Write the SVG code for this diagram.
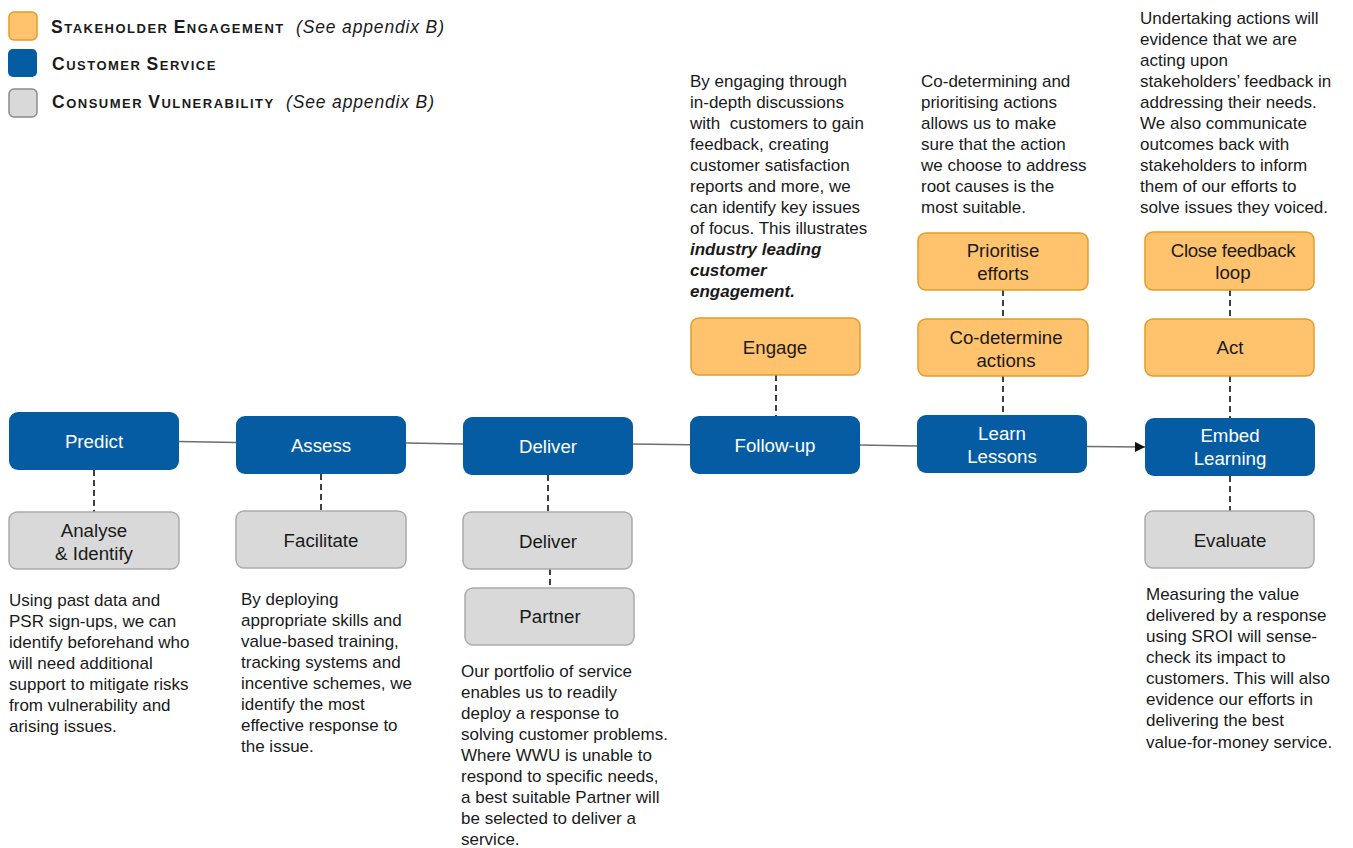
<svg xmlns="http://www.w3.org/2000/svg" width="1353" height="848" viewBox="0 0 1353 848">
<style>
text{font-family:"Liberation Sans",Arial,sans-serif;fill:#1a1a1a}
.blue{fill:#065CA3}
.orange{fill:#FFC36D;stroke:#E39B27;stroke-width:1.5}
.gray{fill:#D9D9D9;stroke:#ABABAB;stroke-width:1.5}
.lbl{font-size:18.7px;text-anchor:middle}
.w{fill:#fff}
.body{font-size:17px}
.leg{font-size:13px;font-weight:bold;letter-spacing:1.5px}
.cap{font-size:17.5px}
.it{font-size:17.5px;font-style:italic;letter-spacing:0.85px}
.solid{stroke:#6e6e6e;stroke-width:1.5;fill:none}
.dash{stroke:#3f3f3f;stroke-width:2;stroke-dasharray:6 4;fill:none}
</style>
<defs>
<marker id="arr" markerWidth="10" markerHeight="10" refX="10" refY="5" orient="auto" markerUnits="userSpaceOnUse">
<path d="M0,0 L10,5 L0,10 z" fill="#111"/>
</marker>
</defs>
<rect width="1353" height="848" fill="#fff"/>

<g id="legend">
<rect x="9" y="12" width="28" height="28" rx="5" class="orange"/>
<rect x="8" y="49" width="29" height="28" rx="5" class="blue"/>
<rect x="9" y="89" width="28" height="28" rx="5" class="gray" style="stroke:#8a8a8a"/>
<text x="51" y="33" class="leg"><tspan class="cap">S</tspan>TAKEHOLDER <tspan class="cap">E</tspan>NGAGEMENT</text>
<text x="296" y="33" class="it">(See appendix B)</text>
<text x="52" y="70" class="leg"><tspan class="cap">C</tspan>USTOMER <tspan class="cap">S</tspan>ERVICE</text>
<text x="52" y="108" class="leg"><tspan class="cap">C</tspan>ONSUMER <tspan class="cap">V</tspan>ULNERABILITY</text>
<text x="286" y="108" class="it">(See appendix B)</text>
</g>

<g id="connectors">
<line x1="179" y1="441.5" x2="236" y2="442.5" class="solid"/>
<line x1="406" y1="443" x2="463" y2="444" class="solid"/>
<line x1="633" y1="444" x2="690" y2="444.7" class="solid"/>
<line x1="860" y1="445" x2="917" y2="446" class="solid"/>
<line x1="1087" y1="446.5" x2="1145" y2="447" class="solid" marker-end="url(#arr)"/>
<line x1="94" y1="470" x2="94" y2="512" class="dash"/>
<line x1="321" y1="474" x2="321" y2="511" class="dash"/>
<line x1="548" y1="475" x2="548" y2="512" class="dash"/>
<line x1="550" y1="569" x2="550" y2="588" class="dash"/>
<line x1="776" y1="375" x2="776" y2="416" class="dash"/>
<line x1="1003" y1="376" x2="1003" y2="415" class="dash"/>
<line x1="1003" y1="290" x2="1003" y2="319" class="dash"/>
<line x1="1230" y1="376" x2="1230" y2="418" class="dash"/>
<line x1="1230" y1="290" x2="1230" y2="319" class="dash"/>
<line x1="1230" y1="476" x2="1230" y2="511" class="dash"/>
</g>

<g id="predict"><rect x="9" y="412" width="170" height="58" rx="9" class="blue"/><text x="94" y="448" class="lbl w">Predict</text></g>
<g id="assess"><rect x="236" y="416" width="170" height="58" rx="9" class="blue"/><text x="321" y="452" class="lbl w">Assess</text></g>
<g id="deliver"><rect x="463" y="417" width="170" height="58" rx="9" class="blue"/><text x="548" y="453" class="lbl w">Deliver</text></g>
<g id="follow-up"><rect x="690" y="416" width="170" height="58" rx="9" class="blue"/><text x="775" y="452" class="lbl w">Follow-up</text></g>
<g id="learn-lessons"><rect x="917" y="415" width="170" height="58" rx="9" class="blue"/><text x="1002" y="440" class="lbl w">Learn</text><text x="1002" y="463" class="lbl w">Lessons</text></g>
<g id="embed-learning"><rect x="1145" y="418" width="170" height="58" rx="9" class="blue"/><text x="1230" y="442" class="lbl w">Embed</text><text x="1230" y="465" class="lbl w">Learning</text></g>

<g id="analyse-identify"><rect x="9" y="512" width="170" height="57" rx="8" class="gray"/><text x="94" y="537" class="lbl">Analyse</text><text x="94" y="560" class="lbl">&amp; Identify</text></g>
<g id="facilitate"><rect x="236" y="511" width="170" height="57" rx="8" class="gray"/><text x="321" y="547" class="lbl">Facilitate</text></g>
<g id="deliver-cv"><rect x="463" y="512" width="169" height="57" rx="8" class="gray"/><text x="548" y="548" class="lbl">Deliver</text></g>
<g id="partner"><rect x="465" y="588" width="169" height="57" rx="8" class="gray"/><text x="550" y="623" class="lbl">Partner</text></g>
<g id="evaluate"><rect x="1145" y="511" width="169" height="57" rx="8" class="gray"/><text x="1230" y="547" class="lbl">Evaluate</text></g>

<g id="engage"><rect x="691" y="318" width="169" height="57" rx="8" class="orange"/><text x="775" y="354" class="lbl">Engage</text></g>
<g id="prioritise-efforts"><rect x="918" y="233" width="170" height="57" rx="8" class="orange"/><text x="1003" y="257" class="lbl">Prioritise</text><text x="1003" y="280" class="lbl">efforts</text></g>
<g id="co-determine-actions"><rect x="918" y="319" width="170" height="57" rx="8" class="orange"/><text x="1006" y="344" class="lbl">Co-determine</text><text x="1006" y="367" class="lbl">actions</text></g>
<g id="close-feedback-loop"><rect x="1145" y="232" width="169" height="58" rx="8" class="orange"/><text x="1233" y="257" class="lbl" style="letter-spacing:-0.3px">Close feedback</text><text x="1233" y="279" class="lbl">loop</text></g>
<g id="act"><rect x="1145" y="319" width="169" height="57" rx="8" class="orange"/><text x="1230" y="354" class="lbl">Act</text></g>

<g id="text-predict">
<text class="body" x="9" y="606">Using past data and</text>
<text class="body" x="9" y="627">PSR sign-ups, we can</text>
<text class="body" x="9" y="648">identify beforehand who</text>
<text class="body" x="9" y="669">will need additional</text>
<text class="body" x="9" y="690">support to mitigate risks</text>
<text class="body" x="9" y="711">from vulnerability and</text>
<text class="body" x="9" y="732">arising issues.</text>
</g>
<g id="text-assess">
<text class="body" x="241" y="605">By deploying</text>
<text class="body" x="241" y="626">appropriate skills and</text>
<text class="body" x="241" y="647">value-based training,</text>
<text class="body" x="241" y="668">tracking systems and</text>
<text class="body" x="241" y="689">incentive schemes, we</text>
<text class="body" x="241" y="710">identify the most</text>
<text class="body" x="241" y="731">effective response to</text>
<text class="body" x="241" y="752">the issue.</text>
</g>
<g id="text-deliver">
<text class="body" x="461" y="677">Our portfolio of service</text>
<text class="body" x="461" y="698">enables us to readily</text>
<text class="body" x="461" y="719">deploy a response to</text>
<text class="body" x="461" y="740">solving customer problems.</text>
<text class="body" x="461" y="761">Where WWU is unable to</text>
<text class="body" x="461" y="782">respond to specific needs,</text>
<text class="body" x="461" y="803">a best suitable Partner will</text>
<text class="body" x="461" y="824">be selected to deliver a</text>
<text class="body" x="461" y="845">service.</text>
</g>
<g id="text-follow-up">
<text class="body" x="690" y="87">By engaging through</text>
<text class="body" x="690" y="108">in-depth discussions</text>
<text class="body" x="690" y="129" xml:space="preserve">with  customers to gain</text>
<text class="body" x="690" y="150">feedback, creating</text>
<text class="body" x="690" y="171">customer satisfaction</text>
<text class="body" x="690" y="192">reports and more, we</text>
<text class="body" x="690" y="213">can identify key issues</text>
<text class="body" x="690" y="234">of focus. This illustrates</text>
<text class="body" x="690" y="255" font-weight="bold" font-style="italic">industry leading</text>
<text class="body" x="690" y="276" font-weight="bold" font-style="italic">customer</text>
<text class="body" x="690" y="297" font-weight="bold" font-style="italic">engagement.</text>
</g>
<g id="text-learn">
<text class="body" x="921" y="87">Co-determining and</text>
<text class="body" x="921" y="108">prioritising actions</text>
<text class="body" x="921" y="129">allows us to make</text>
<text class="body" x="921" y="150">sure that the action</text>
<text class="body" x="921" y="171">we choose to address</text>
<text class="body" x="921" y="192">root causes is the</text>
<text class="body" x="921" y="213">most suitable.</text>
</g>
<g id="text-embed">
<text class="body" x="1140" y="24">Undertaking actions will</text>
<text class="body" x="1140" y="45">evidence that we are</text>
<text class="body" x="1140" y="66">acting upon</text>
<text class="body" x="1140" y="87">stakeholders’ feedback in</text>
<text class="body" x="1140" y="108">addressing their needs.</text>
<text class="body" x="1140" y="129">We also communicate</text>
<text class="body" x="1140" y="150">outcomes back with</text>
<text class="body" x="1140" y="171">stakeholders to inform</text>
<text class="body" x="1140" y="192">them of our efforts to</text>
<text class="body" x="1140" y="213">solve issues they voiced.</text>
</g>
<g id="text-evaluate">
<text class="body" x="1146" y="600">Measuring the value</text>
<text class="body" x="1146" y="621">delivered by a response</text>
<text class="body" x="1146" y="642">using SROI will sense-</text>
<text class="body" x="1146" y="663">check its impact to</text>
<text class="body" x="1146" y="684">customers. This will also</text>
<text class="body" x="1146" y="705">evidence our efforts in</text>
<text class="body" x="1146" y="726">delivering the best</text>
<text class="body" x="1146" y="748">value-for-money service.</text>
</g>
</svg>
